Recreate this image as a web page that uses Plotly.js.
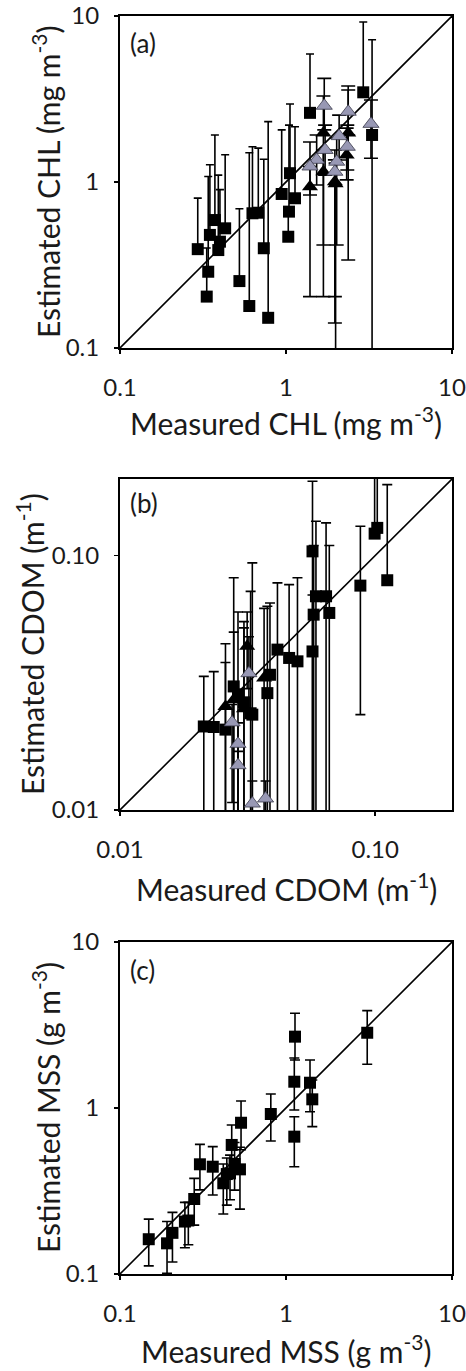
<!DOCTYPE html>
<html><head><meta charset="utf-8">
<script src="https://cdn.plot.ly/plotly-3.0.1.min.js"></script>
<style>html,body{margin:0;padding:0;background:#fff}#chart{width:466px;height:1371px}</style>
</head><body><div id="chart"></div>
<script>
// ---------- Panel (a): CHL (mg m-3) ----------
// squares: measured, estimated, upper error end, lower error end (null = no lower bar, 0 = below axis)
const chlSqMeas = [0.294, 0.340, 0.333, 0.348, 0.373, 0.400, 0.430, 0.391, 0.524, 0.601, 0.628, 0.681, 0.735, 0.781, 0.942, 1.057, 1.042, 1.032, 1.133, 1.395, 2.92, 3.30];
const chlSqEst  = [0.394, 0.288, 0.204, 0.480, 0.590, 0.437, 0.526, 0.389, 0.253, 0.179, 0.648, 0.653, 0.399, 0.152, 0.847, 1.13, 0.663, 0.468, 0.798, 2.61, 3.47, 1.92];
const chlSqHi   = [0.80, 1.08, 0.40, 1.27, 1.92, 0.90, 1.46, 1.10, 0.69, 1.50, 1.63, 1.60, 1.37, 2.31, 2.06, 2.95, 2.20, 0.66, 2.15, 5.9, 9.2, 7.2];
const chlSqLo   = [null, null, null, null, null, null, null, null, null, null, null, null, null, null, null, null, null, null, null, null, null, 0];
// black triangles
const chlBtMeas = [1.68, 2.37, 1.395, 1.68, 1.97, 2.32, 1.99];
const chlBtEst  = [1.97, 1.97, 0.937, 1.153, 1.004, 1.455, 0.975];
const chlBtHi   = [3.3, 3.58, 1.24, 1.56, 1.36, 2.11, 1.30];
const chlBtLo   = [0.417, 0.339, 0.204, 0.204, 0.1415, 1.03, 0];
// grey triangles
const chlGtMeas = [1.70, 2.37, 3.25, 2.09, 1.72, 1.53, 1.395, 2.34, 2.02, 1.97];
const chlGtEst  = [2.88, 2.65, 2.24, 1.89, 1.56, 1.36, 1.24, 1.63, 1.325, 1.153];
const chlGtHi   = [4.21, 3.79, 3.12, 2.53, 2.20, 1.92, 1.742, 2.20, 1.84, 1.559];
const chlGtLo   = [2.06, 1.92, 1.39, 1.357, 1.10, 0.959, 0.835, 1.181, 0.417, 0.204];
const chlLine = [0.1, 10];

// ---------- Panel (b): CDOM (m-1) ----------
const cdomSqMeas = [0.0213, 0.0233, 0.0259, 0.0279, 0.0325, 0.0330, 0.0387, 0.0378, 0.0414, 0.0460, 0.0496, 0.0568, 0.0586, 0.0642, 0.0574, 0.0661, 0.0568, 0.0875, 0.1019, 0.0995, 0.1115, 0.0290, 0.0306];
const cdomSqEst  = [0.0213, 0.0212, 0.0207, 0.0306, 0.0240, 0.0237, 0.0340, 0.0288, 0.0427, 0.0396, 0.0384, 0.1039, 0.0692, 0.0692, 0.0586, 0.0595, 0.0420, 0.0762, 0.1285, 0.1220, 0.0800, 0.0285, 0.0265];
const cdomSqHi   = [0.0335, 0.0350, 0.0380, 0.0818, 0.0723, 0.0936, 0.0651, 0.0632, 0.0781, 0.0769, 0.0818, 0.196, 0.1365, 0.1345, 0.1095, 0.1095, 0.070, 0.1304, 0.30, 0.30, 0.190, 0.060, 0.055];
const cdomSqLo   = [0, 0, 0, 0, 0, 0, 0, 0, 0, 0, 0, 0, 0, 0, 0, 0, 0, 0.0237, null, null, null, 0, 0];
const cdomBtMeas = [0.0259, 0.0279, 0.0315, 0.0367, 0.0306];
const cdomBtEst  = [0.0255, 0.0271, 0.0440, 0.0330, 0.0250];
const cdomBtHi   = [0.045, 0.050, 0.060, 0.062, 0.052];
const cdomBtLo   = [0, 0, 0.030, 0, 0];
const cdomGtMeas = [0.0320, 0.0275, 0.0290, 0.0290, 0.0330, 0.0372];
const cdomGtEst  = [0.0345, 0.0221, 0.0182, 0.0150, 0.0106, 0.0111];
const cdomGtHi   = [0.048, 0.026, 0.022, 0.017, 0.013, 0.013];
const cdomGtLo   = [0.025, 0.0107, 0, 0, 0, 0];
const cdomLine = [0.01, 0.2];

// ---------- Panel (c): MSS (g m-3) ----------
const mssMeas = [0.149, 0.192, 0.207, 0.246, 0.258, 0.280, 0.303, 0.362, 0.419, 0.440, 0.460, 0.471, 0.490, 0.528, 0.536, 0.810, 1.122, 1.133, 1.395, 1.44, 1.122, 3.085];
const mssEst  = [0.162, 0.153, 0.177, 0.207, 0.210, 0.283, 0.458, 0.443, 0.352, 0.400, 0.404, 0.599, 0.460, 0.427, 0.815, 0.920, 1.44, 2.69, 1.42, 1.128, 0.672, 2.84];
const mssHi   = [0.214, 0.207, 0.235, 0.270, 0.27, 0.377, 0.604, 0.585, 0.46, 0.50, 0.52, 0.79, 0.62, 0.58, 1.102, 1.214, 2.0, 3.72, 1.946, 1.475, 0.886, 3.86];
const mssLo   = [0.112, 0.101, 0.118, 0.144, 0.15, 0.197, 0.321, 0.299, 0.230, 0.26, 0.28, 0.40, 0.32, 0.246, 0.56, 0.633, 0.973, 1.946, 0.95, 0.772, 0.443, 1.834];
const mssLine = [0.1, 10];

// ---------- helpers ----------
const W = 466, H = 1371;
const FONT = 'Lato, "Open Sans", sans-serif';
const TXT = '#1a1a1a';
const GREY = '#9898b4';

function errY(est, hi, lo, capw) {
  return {
    type: 'data', symmetric: false,
    array: hi.map((h, i) => h - est[i]),
    arrayminus: lo.map((l, i) => l === null ? 0 : est[i] - l),
    color: '#000', thickness: 1.6, width: capw
  };
}
function pts(xa, ya, xs, ys, hi, lo, kind, capw) {
  const marker = kind === 'sq'
    ? {symbol: 'square', size: 12, color: '#000'}
    : kind === 'bt'
      ? {symbol: 'triangle-up', size: 14, color: '#000'}
      : {symbol: 'triangle-up', size: 14, color: GREY, line: {color: '#3a3a4a', width: 0.8}};
  return {type: 'scatter', mode: 'markers', x: xs, y: ys, xaxis: xa, yaxis: ya,
          marker: marker, error_y: errY(ys, hi, lo, capw), hoverinfo: 'x+y', showlegend: false};
}
function diag(xa, ya, v) {
  return {type: 'scatter', mode: 'lines', x: v, y: v, xaxis: xa, yaxis: ya,
          line: {color: '#000', width: 1.6}, hoverinfo: 'skip', showlegend: false};
}

const traces = [
  diag('x', 'y', chlLine),
  pts('x', 'y', chlSqMeas, chlSqEst, chlSqHi, chlSqLo, 'sq', 4),
  pts('x', 'y', chlBtMeas, chlBtEst, chlBtHi, chlBtLo, 'bt', 7),
  pts('x', 'y', chlGtMeas, chlGtEst, chlGtHi, chlGtLo, 'gt', 7),
  diag('x2', 'y2', cdomLine),
  pts('x2', 'y2', cdomSqMeas, cdomSqEst, cdomSqHi, cdomSqLo, 'sq', 5),
  pts('x2', 'y2', cdomBtMeas, cdomBtEst, cdomBtHi, cdomBtLo, 'bt', 5),
  pts('x2', 'y2', cdomGtMeas, cdomGtEst, cdomGtHi, cdomGtLo, 'gt', 5),
  diag('x3', 'y3', mssLine),
  pts('x3', 'y3', mssMeas, mssEst, mssHi, mssLo, 'sq', 5)
];

// plot-area boxes in pixels (left, right, top, bottom)
const boxA = [120, 452, 16, 348];
const boxB = [120, 452, 479, 810];
const boxC = [120, 452, 942, 1274];
const dx = b => [b[0] / W, b[1] / W];
const dy = b => [1 - b[3] / H, 1 - b[2] / H];

const tickFont = {family: FONT, size: 24, color: TXT};
function ax(extra) {
  return Object.assign({
    type: 'log', showgrid: false, zeroline: false, showline: true, mirror: true,
    linecolor: '#000', linewidth: 2, ticks: 'outside', ticklen: 4, tickwidth: 1.5,
    tickcolor: '#000', tickfont: tickFont, fixedrange: true
  }, extra);
}
const decTicks = [0.1, 1, 10], decText = ['0.1', '1', '10'];
const cdTicks = [0.01, 0.1], cdText = ['0.01', '0.10'];
const XSO = 13, YSO = 10;

function ann(text, pxX, pxY, size, opts) {
  return Object.assign({text: text, xref: 'paper', yref: 'paper', x: pxX / W, y: 1 - pxY / H,
    showarrow: false, xanchor: 'center', yanchor: 'middle',
    font: {family: FONT, size: size, color: TXT}}, opts || {});
}
const TS = 30;

const layout = {
  width: W, height: H, margin: {l: 0, r: 0, t: 0, b: 0},
  paper_bgcolor: '#fff', plot_bgcolor: '#fff', showlegend: false,
  xaxis: ax({domain: dx(boxA), anchor: 'y', range: [-1, 1], tickvals: decTicks, ticktext: decText, ticklabelstandoff: XSO}),
  yaxis: ax({domain: dy(boxA), anchor: 'x', range: [-1, 1], tickvals: decTicks, ticktext: decText, ticklabelstandoff: YSO}),
  xaxis2: ax({domain: dx(boxB), anchor: 'y2', range: [-2, Math.log10(0.2)], tickvals: cdTicks, ticktext: cdText, ticklabelstandoff: XSO}),
  yaxis2: ax({domain: dy(boxB), anchor: 'x2', range: [-2, Math.log10(0.2)], tickvals: cdTicks, ticktext: cdText, ticklabelstandoff: YSO}),
  xaxis3: ax({domain: dx(boxC), anchor: 'y3', range: [-1, 1], tickvals: decTicks, ticktext: decText, ticklabelstandoff: XSO}),
  yaxis3: ax({domain: dy(boxC), anchor: 'x3', range: [-1, 1], tickvals: decTicks, ticktext: decText, ticklabelstandoff: YSO}),
  annotations: [
    ann('(a)', 128, 43, 26, {xanchor: 'left'}),
    ann('(b)', 128, 503, 26, {xanchor: 'left'}),
    ann('(c)', 128, 970, 26, {xanchor: 'left'}),
    ann('Measured CHL (mg m<sup>-3</sup>)', 286, 421, TS),
    ann('Estimated CHL (mg m<sup>-3</sup>)', 46, 182, TS, {textangle: -90}),
    ann('Measured CDOM (m<sup>-1</sup>)', 286, 887, TS),
    ann('Estimated CDOM (m<sup>-1</sup>)', 30, 644, TS, {textangle: -90}),
    ann('Measured MSS (g m<sup>-3</sup>)', 286, 1349, TS),
    ann('Estimated MSS (g m<sup>-3</sup>)', 46, 1108, TS, {textangle: -90})
  ]
};

Plotly.newPlot('chart', traces, layout, {staticPlot: true, displayModeBar: false});
</script>
</body></html>
